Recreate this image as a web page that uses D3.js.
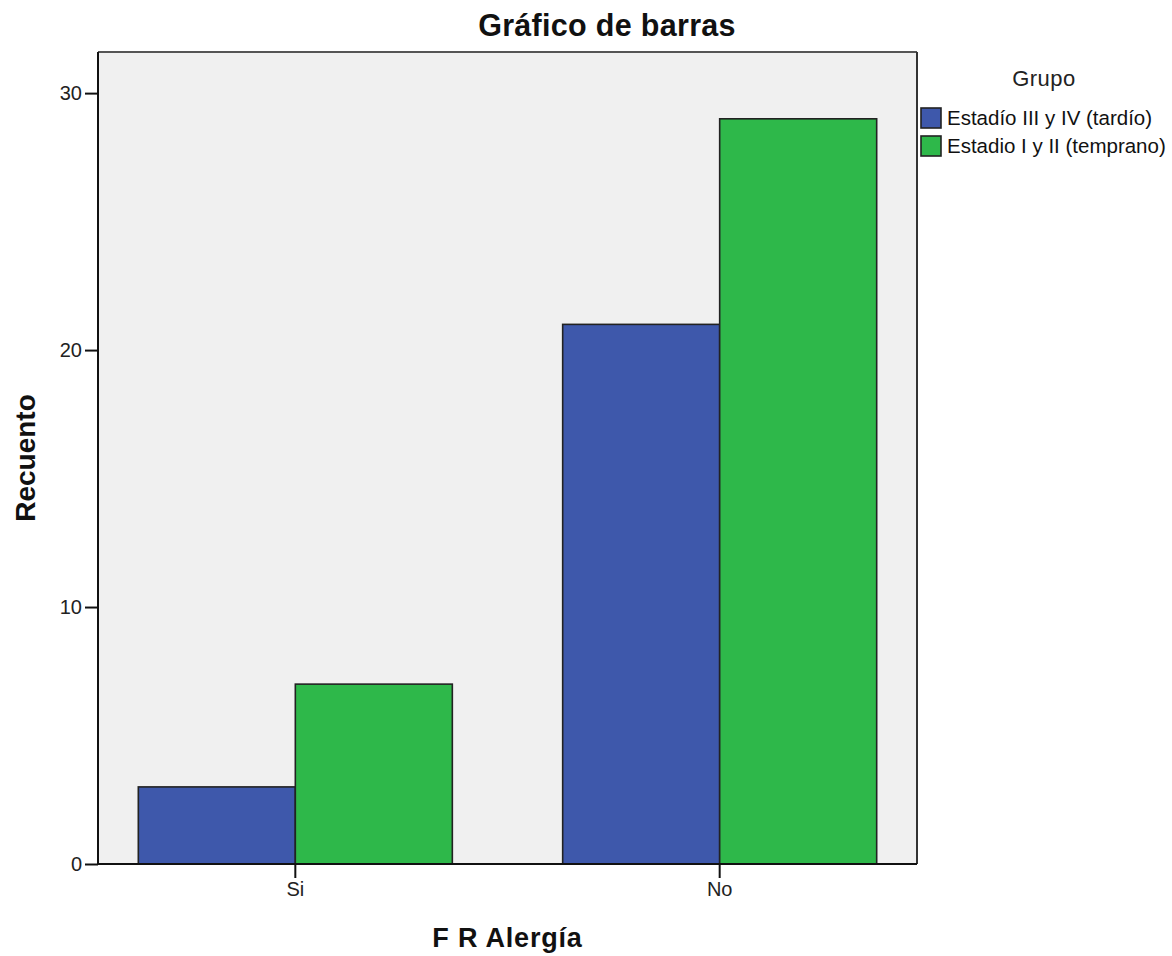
<!DOCTYPE html>
<html>
<head>
<meta charset="utf-8">
<script src="https://cdn.jsdelivr.net/npm/d3@7"></script>
<style>
  html, body { margin: 0; padding: 0; background: #ffffff; }
  svg { display: block; font-family: "Liberation Sans", Arial, sans-serif; }
</style>
</head>
<body>
<svg id="chart" width="1172" height="956"></svg>
<script>
// ---- data ----
const categories = ["Si", "No"];
const seriesNames = ["Estadío III y IV (tardío)", "Estadio I y II (temprano)"];
const seriesTardio = [3, 21];
const seriesTemprano = [7, 29];
const yTicks = [0, 10, 20, 30];
const seriesColors = ["#3e58ab", "#2eb84a"];

const chartTitle = "Gráfico de barras";
const xTitle = "F R Alergía";
const yTitle = "Recuento";
const legendTitle = "Grupo";

// ---- layout ----
const svg = d3.select("#chart");
const plot = { left: 98, right: 917, top: 52, bottom: 864 };

const x0 = d3.scaleBand()
  .domain(categories)
  .range([plot.left, plot.right])
  .paddingInner(0.26)
  .paddingOuter(0.095);

const x1 = d3.scaleBand()
  .domain(seriesNames)
  .range([0, x0.bandwidth()])
  .padding(0);

const y = d3.scaleLinear()
  .domain([0, 31.6])
  .range([plot.bottom, plot.top]);

const color = d3.scaleOrdinal().domain(seriesNames).range(seriesColors);

const rows = categories.map((c, i) => ({
  category: c,
  values: [
    { name: seriesNames[0], value: seriesTardio[i] },
    { name: seriesNames[1], value: seriesTemprano[i] }
  ]
}));

// plot background
svg.append("rect")
  .attr("x", plot.left).attr("y", plot.top)
  .attr("width", plot.right - plot.left)
  .attr("height", plot.bottom - plot.top)
  .attr("fill", "#f0f0f0");

// bars
const groups = svg.append("g").selectAll("g")
  .data(rows).join("g")
  .attr("transform", d => `translate(${x0(d.category)},0)`);

groups.selectAll("rect")
  .data(d => d.values).join("rect")
  .attr("x", d => x1(d.name))
  .attr("y", d => y(d.value))
  .attr("width", x1.bandwidth())
  .attr("height", d => y(0) - y(d.value))
  .attr("fill", d => color(d.name))
  .attr("stroke", "#222")
  .attr("stroke-width", 1.6);

// frame: top & right
svg.append("line")
  .attr("x1", plot.left).attr("x2", plot.right)
  .attr("y1", plot.top).attr("y2", plot.top)
  .attr("stroke", "#555").attr("stroke-width", 2);
svg.append("line")
  .attr("x1", plot.right).attr("x2", plot.right)
  .attr("y1", plot.top).attr("y2", plot.bottom)
  .attr("stroke", "#333").attr("stroke-width", 2);

// y axis
const yAxis = d3.axisLeft(y).tickValues(yTicks).tickSize(13).tickPadding(3).tickFormat(d3.format("d"));
const gy = svg.append("g").attr("transform", `translate(${plot.left},0)`).call(yAxis);
gy.select(".domain").attr("stroke", "#111").attr("stroke-width", 2)
  .attr("d", `M0,${plot.top}V${plot.bottom}`);
gy.selectAll(".tick line").attr("stroke", "#111").attr("stroke-width", 2);
gy.selectAll(".tick text").attr("fill", "#222").style("font-size", "20px")
  .style("font-family", "'Liberation Sans', Arial, sans-serif");

// x axis
const xAxis = d3.axisBottom(x0).tickSize(14).tickPadding(4);
const gx = svg.append("g").attr("transform", `translate(0,${plot.bottom})`).call(xAxis);
gx.select(".domain").attr("stroke", "#111").attr("stroke-width", 2)
  .attr("d", `M${plot.left},0H${plot.right}`);
gx.selectAll(".tick line").attr("stroke", "#111").attr("stroke-width", 2)
  .attr("transform", `translate(${-x0.bandwidth() / 2 + x1.bandwidth()},0)`);
gx.selectAll(".tick text").attr("fill", "#222").style("font-size", "20px")
  .style("font-family", "'Liberation Sans', Arial, sans-serif")
  .attr("transform", `translate(${-x0.bandwidth() / 2 + x1.bandwidth()},0)`);

// titles
svg.append("text")
  .attr("x", 607).attr("y", 36)
  .attr("text-anchor", "middle")
  .style("font-size", "30.5px").style("font-weight", "bold")
  .style("letter-spacing", "0.3px")
  .attr("fill", "#111")
  .text(chartTitle);

svg.append("text")
  .attr("x", (plot.left + plot.right) / 2).attr("y", 947)
  .attr("text-anchor", "middle")
  .style("font-size", "27px").style("font-weight", "bold")
  .style("letter-spacing", "0.8px")
  .attr("fill", "#111")
  .text(xTitle);

svg.append("text")
  .attr("transform", `translate(35,458) rotate(-90)`)
  .attr("text-anchor", "middle")
  .style("font-size", "28px").style("font-weight", "bold")
  .attr("fill", "#111")
  .text(yTitle);

// legend
svg.append("text")
  .attr("x", 1044).attr("y", 86)
  .attr("text-anchor", "middle")
  .style("font-size", "22px")
  .style("letter-spacing", "0.5px")
  .attr("fill", "#222")
  .text(legendTitle);

const legend = svg.append("g").selectAll("g")
  .data(seriesNames).join("g")
  .attr("transform", (d, i) => `translate(921,${108 + i * 28})`);

legend.append("rect")
  .attr("width", 20).attr("height", 20)
  .attr("fill", d => color(d))
  .attr("stroke", "#222").attr("stroke-width", 1.6);

legend.append("text")
  .attr("x", 26).attr("y", 10)
  .attr("dy", "0.36em")
  .style("font-size", "20.5px")
  .attr("fill", "#111")
  .text(d => d);
</script>
</body>
</html>
